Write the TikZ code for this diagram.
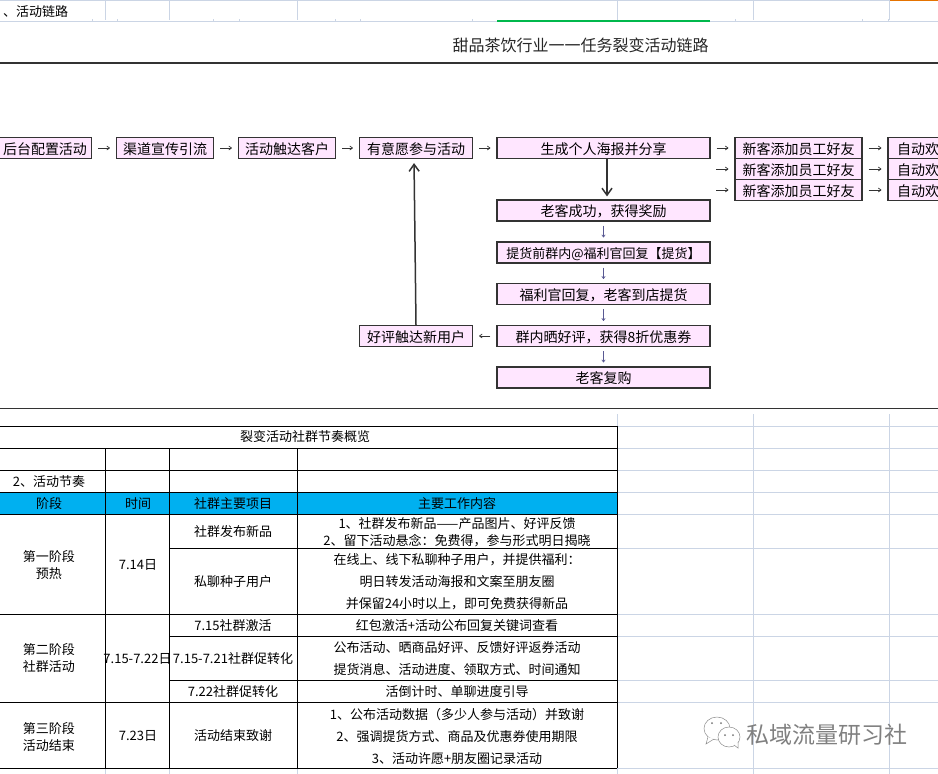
\documentclass[tikz,border=0pt]{standalone}
\usepackage{fontspec}
\setmainfont{Noto Sans CJK SC}
\usetikzlibrary{arrows.meta}
\definecolor{gridline}{HTML}{CBD5E5}
\definecolor{boxpink}{HTML}{FFE6FF}
\definecolor{headblue}{HTML}{00B0F0}

\begin{document}
\begin{tikzpicture}[x=1pt,y=-1pt]
  \tikzset{flowbox/.style = {draw=black!80, fill=boxpink, line width=1.1pt, inner sep=0pt, minimum height=21pt, text height=14pt, text depth=1.6pt, font=\fontsize{14}{16}\selectfont}}
  \tikzset{shortbox/.style = {flowbox, minimum width=97pt}}
  \tikzset{longbox/.style = {flowbox, minimum width=213pt}}
  \tikzset{friendbox/.style = {flowbox, minimum width=127pt}}
  \tikzset{cell/.style = {inner sep=0pt, yshift=-1pt, align=center, font=\fontsize{13}{17}\selectfont}}
  \tikzset{widecell/.style = {inner sep=0pt, yshift=-1pt, align=center, font=\fontsize{13}{22}\selectfont}}
  \tikzset{thin arrow/.style = {-{To[length=3.5pt,width=4.5pt]}, line width=0.7pt, black!80, shorten >=6pt, shorten <=6pt}}
  \tikzset{down arrow/.style = {-{To[length=3pt,width=4pt]}, line width=0.6pt, blue!35!black!65, shorten >=4pt, shorten <=4pt}}
  \tikzset{big arrow/.style = {-{Straight Barb[length=7pt,width=10pt]}, line width=1.5pt, black!80}}
  \useasboundingbox (0,0) rectangle (938,774);

  % 表格背景
  \fill[headblue] (0,492) rectangle (617,514);
  \draw[gridline] (0,0.5) -- (938,0.5);
  \draw[gridline, line width=1pt] (0,21) -- (938,21);
  \draw[orange!90!black, line width=1pt] (889,0.5) -- (938,0.5);
  \draw[green!60!black!70!cyan, line width=1.5pt] (497,21) -- (710,21);
  \foreach \x in {105,169,297,617,753,889} \draw[gridline] (\x,0) -- (\x,20);
  \foreach \x in {92,117,213,239,335,360,472,735,862,888} \draw[gridline] (\x,19) -- (\x,21);
  \foreach \x in {617,753,889} \draw[gridline] (\x,414) -- (\x,774);
  \foreach \x in {105,169,297} \draw[gridline] (\x,768) -- (\x,774);
  \foreach \y in {426,448,470,492,514,548,614,636,680,702,768} \draw[gridline] (617,\y) -- (938,\y);

  % 表格线
  \draw (0,426) -- (617,426);
  \draw (0,448) -- (617,448);
  \draw (0,470) -- (617,470);
  \draw (0,492) -- (617,492);
  \draw (0,514) -- (617,514);
  \draw (169,548) -- (617,548);
  \draw (0,614) -- (617,614);
  \draw (169,636) -- (617,636);
  \draw (169,680) -- (617,680);
  \draw (0,702) -- (617,702);
  \draw (0,768) -- (617,768);
  \draw (105,448) -- (105,768);
  \draw (169,448) -- (169,768);
  \draw (297,448) -- (297,768);
  \draw (617,426) -- (617,768);
  \draw[black!80, line width=1.2pt] (0,63) -- (938,63);
  \draw[black!80, line width=1.2pt] (0,408.5) -- (938,408.5);

  % 标题
  \node[cell, anchor=west] (sheet) at (3,11) {、活动链路};
  \node[cell, font=\fontsize{16}{18}\selectfont, text=black!85] (title) at (580.5,44) {甜品茶饮行业一一任务裂变活动链路};

  % 节点
  \node[flowbox, minimum width=93.2pt] (peizhi) at (45,148) {后台配置活动};
  \node[shortbox] (yinliu) at (165,148) {渠道宣传引流};
  \node[shortbox] (chuda) at (287,148) {活动触达客户};
  \node[flowbox, minimum width=113pt] (canyu) at (416,148) {有意愿参与活动};
  \node[longbox] (haibao) at (603.5,148) {生成个人海报并分享};
  \node[friendbox] (friend1) at (798.5,148) {新客添加员工好友};
  \node[friendbox] (friend2) at (798.5,169) {新客添加员工好友};
  \node[friendbox] (friend3) at (798.5,190) {新客添加员工好友};
  \node[flowbox, minimum width=60pt] (hello1) at (918,148) {自动欢};
  \node[flowbox, minimum width=60pt] (hello2) at (918,169) {自动欢};
  \node[flowbox, minimum width=60pt] (hello3) at (918,190) {自动欢};
  \node[longbox] (jiangli) at (603.5,210.5) {老客成功，获得奖励};
  \node[longbox, font=\fontsize{13}{16}\selectfont] (huifu) at (603.5,252.5) {提货前群内@福利官回复【提货】};
  \node[longbox] (tihuo) at (603.5,294) {福利官回复，老客到店提货};
  \node[longbox] (shai) at (603.5,336) {群内晒好评，获得8折优惠券};
  \node[longbox] (fugou) at (603.5,377.5) {老客复购};
  \node[flowbox, minimum width=113pt] (haoping) at (416,336) {好评触达新用户};
  \coordinate (free2) at (710,169);
  \coordinate (free3) at (710,190);

  % 箭头
  \draw[thin arrow] (peizhi) -- (yinliu);
  \draw[thin arrow] (yinliu) -- (chuda);
  \draw[thin arrow] (chuda) -- (canyu);
  \draw[thin arrow] (canyu) -- (haibao);
  \draw[thin arrow] (haibao) -- (friend1);
  \draw[thin arrow] (free2) -- (friend2);
  \draw[thin arrow] (free3) -- (friend3);
  \draw[thin arrow] (friend1) -- (hello1);
  \draw[thin arrow] (friend2) -- (hello2);
  \draw[thin arrow] (friend3) -- (hello3);
  \draw[down arrow] (jiangli) -- (huifu);
  \draw[down arrow] (huifu) -- (tihuo);
  \draw[down arrow] (tihuo) -- (shai);
  \draw[down arrow] (shai) -- (fugou);
  \draw[thin arrow] (shai) -- (haoping);
  \draw[big arrow, shorten >=3pt] ([xshift=3.5pt]haibao.south) -- ([xshift=3.5pt]jiangli.north);
  \draw[big arrow, shorten >=4pt] (haoping.north) -- ([xshift=-2pt]canyu.south);

  % 表格文字
  \node[cell] (overview) at (305,436) {裂变活动社群节奏概览};
  \node[cell] (rhythm) at (49,481) {2、活动节奏};
  \node[cell] (head1) at (49,503) {阶段};
  \node[cell] (head2) at (138,503) {时间};
  \node[cell] (head3) at (233,503) {社群主要项目};
  \node[cell] (head4) at (457,503) {主要工作内容};
  \node[cell] (stage1) at (49,564) {第一阶段\\预热};
  \node[cell] (stage2) at (49,657) {第二阶段\\社群活动};
  \node[cell] (stage3) at (49,736) {第三阶段\\活动结束};
  \node[cell] (date1) at (138,564) {7.14日};
  \node[cell] (date2) at (137.5,658) {7.15-7.22日};
  \node[cell] (date3) at (138,735) {7.23日};
  \node[cell] (item1) at (233,531) {社群发布新品};
  \node[cell] (item2) at (233,581) {私聊种子用户};
  \node[cell] (item3) at (233,625) {7.15社群激活};
  \node[cell] (item4) at (233,658) {7.15-7.21社群促转化};
  \node[cell] (item5) at (233,691) {7.22社群促转化};
  \node[cell] (item6) at (233,735) {活动结束致谢};
  \node[cell] (work1) at (457,531) {1、社群发布新品——产品图片、好评反馈\\2、留下活动悬念：免费得，参与形式明日揭晓};
  \node[widecell] (work2) at (457,581) {在线上、线下私聊种子用户，并提供福利：\\明日转发活动海报和文案至朋友圈\\并保留24小时以上，即可免费获得新品};
  \node[cell] (work3) at (457,625) {红包激活+活动公布回复关键词查看};
  \node[widecell] (work4) at (457,658) {公布活动、晒商品好评、反馈好评返券活动\\提货消息、活动进度、领取方式、时间通知};
  \node[cell] (work5) at (457,691) {活倒计时、单聊进度引导};
  \node[widecell] (work6) at (457,735) {1、公布活动数据（多少人参与活动）并致谢\\2、强调提货方式、商品及优惠券使用期限\\3、活动许愿+朋友圈记录活动};

  % 水印
  \draw[black!45, fill=white, line width=0.5pt] (717,728.5) ellipse (13pt and 11.5pt);
  \draw[black!45, fill=white, line width=0.5pt] (708,737) -- (706,744) -- (714,739);
  \draw[black!45, fill=white, line width=0.5pt] (729,737) ellipse (11pt and 10pt);
  \draw[black!45, fill=white, line width=0.5pt] (734,745) -- (738,748) -- (738,742);
  \fill[black!55] (712,723) circle (1pt) (721,723) circle (1pt) (725,735) circle (1pt) (733,735) circle (1pt);
  \node[cell, font=\fontsize{23}{25}\selectfont, text=black!50] (mark) at (827,734) {私域流量研习社};
\end{tikzpicture}
\end{document}
